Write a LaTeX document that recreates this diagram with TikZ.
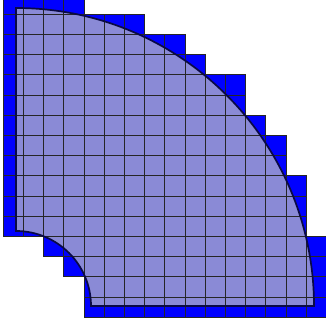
\documentclass[tikz,border=0pt]{standalone}
\definecolor{cellblue}{RGB}{0,0,255}
\definecolor{domfill}{RGB}{138,138,214}
\definecolor{domedge}{RGB}{10,10,70}
\tikzset{
  cellfill/.style={fill=cellblue},
  cellline/.style={draw=black!85,line width=0.55pt},
  regionfill/.style={fill=domfill},
  boundary/.style={draw=domedge,line width=1.7pt},
}
\begin{document}
\begin{tikzpicture}[x=20.2pt,y=-20.2pt]
\def\cx{0.6436}\def\cy{15.4554}\def\R{14.7525}\def\r{3.7129}
\useasboundingbox (-0.1485,0.3069) rectangle (15.990,16.347);
\clip (-0.1485,0.3069) rectangle (15.990,16.347);
% blue cells
\foreach \i in {0,...,15}{\foreach \j in {0,...,15}{
  \pgfmathsetmacro{\xa}{max(\i,\cx)}
  \pgfmathsetmacro{\yb}{min(\j+1,\cy)}
  \pgfmathsetmacro{\dmin}{(\xa-\cx)^2+(\cy-\yb)^2}
  \pgfmathsetmacro{\dmax}{(\i+1-\cx)^2+(\cy-\j)^2}
  \pgfmathtruncatemacro{\hit}{and(\dmin<=217.64,\dmax>=13.97)}
  \ifnum\hit=1
    \path[cellfill] (\i,\j) rectangle ++(1,1);
  \fi
}}
% domain
\path[regionfill] (\cx+\r,\cy) -- (\cx+\R,\cy) arc[start angle=0,end angle=-90,radius=\R]
  -- (\cx,\cy-\r) arc[start angle=-90,end angle=0,radius=\r] -- cycle;
% cell borders
\foreach \i in {0,...,15}{\foreach \j in {0,...,15}{
  \pgfmathsetmacro{\xa}{max(\i,\cx)}
  \pgfmathsetmacro{\yb}{min(\j+1,\cy)}
  \pgfmathsetmacro{\dmin}{(\xa-\cx)^2+(\cy-\yb)^2}
  \pgfmathsetmacro{\dmax}{(\i+1-\cx)^2+(\cy-\j)^2}
  \pgfmathtruncatemacro{\hit}{and(\dmin<=217.64,\dmax>=13.97)}
  \ifnum\hit=1
    \path[cellline] (\i,\j) rectangle ++(1,1);
  \fi
}}
% boundary
\path[boundary] (\cx+\r,\cy) -- (\cx+\R,\cy) arc[start angle=0,end angle=-90,radius=\R]
  -- (\cx,\cy-\r) arc[start angle=-90,end angle=0,radius=\r] -- cycle;
\end{tikzpicture}
\end{document}
